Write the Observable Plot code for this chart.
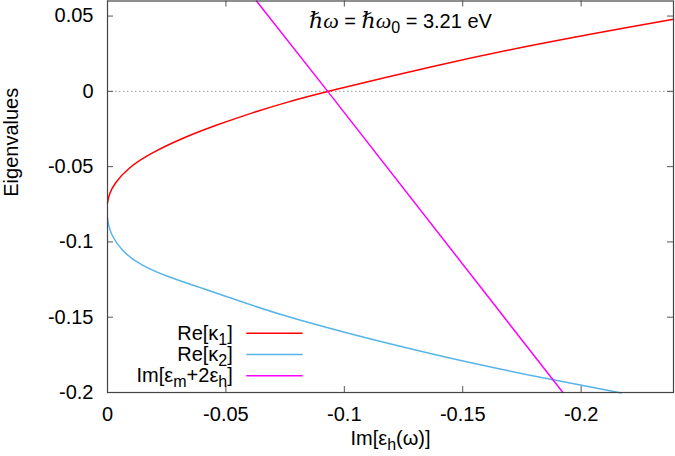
<!DOCTYPE html>
<html><head><meta charset="utf-8">
<script src="https://cdn.jsdelivr.net/npm/d3@7"></script>
<script src="https://cdn.jsdelivr.net/npm/@observablehq/plot@0.6"></script>
<style>body{margin:0;background:#fff} svg{display:block}</style>
</head><body><div id="chart"></div>
<script>
// Re[kappa_1] (red)
const redX = [0, -0.0007, -0.0028, -0.0085, -0.0183, -0.0324, -0.0465, -0.0606, -0.0747, -0.093, -0.1367, -0.179, -0.2212, -0.239];
const redY = [-0.0743, -0.0681, -0.0615, -0.0510, -0.0410, -0.0305, -0.0221, -0.0145, -0.0076, 0.0, 0.0166, 0.0308, 0.0430, 0.0479];
// Re[kappa_2] (blue)
const blueX = [0, -0.0003, -0.0014, -0.0057, -0.0141, -0.0254, -0.0395, -0.0479, -0.0733, -0.1029, -0.1156, -0.15, -0.1881, -0.217];
const blueY = [-0.0837, -0.088, -0.0947, -0.1058, -0.1157, -0.1232, -0.1305, -0.1350, -0.1488, -0.1612, -0.1663, -0.1794, -0.1917, -0.2003];
// Im[eps_m + 2 eps_h] (magenta)
const magX = [-0.0629, -0.093, -0.1923];
const magY = [0.06, 0.0, -0.2];

const xTicks = [0, -0.05, -0.1, -0.15, -0.2];
const xTickLabels = ["0", "-0.05", "-0.1", "-0.15", "-0.2"];
const yTicks = [0.05, 0, -0.05, -0.1, -0.15, -0.2];
const yTickLabels = ["0.05", "0", "-0.05", "-0.1", "-0.15", "-0.2"];

const seriesNames = ["Re[κ_1]", "Re[κ_2]", "Im[ε_m+2ε_h]"];
const seriesColors = ["#ff0000", "#56b4e9", "#ff00ff"];
// legend layout (data coordinates)
const legendTextX = -0.0529, legendLineX1 = -0.0588, legendLineX2 = -0.0826;
const legendY = [-0.1607, -0.1748, -0.1889];
const titleText = "*ℏω* = *ℏω*_0 = 3.21 eV";
const titleX = -0.0851, titleY = 0.0465;

const W = 675, H = 456;
const mL = 107, mR = 2, mT = 0.5, mB = 64;
const plotW = W - mL - mR, plotH = H - mT - mB;

const toRows = (xs, ys) => xs.map((x, i) => ({x, y: ys[i]}));
const red = toRows(redX, redY), blue = toRows(blueX, blueY), mag = toRows(magX, magY);
const legend = seriesNames.map((name, i) => ({name, color: seriesColors[i], y: legendY[i]}));

const fmt = (ticks, labels) => d => labels[ticks.indexOf(d)] ?? "";

const plot = Plot.plot({
  width: W, height: H,
  marginLeft: mL, marginRight: mR, marginTop: mT, marginBottom: mB,
  style: {fontFamily: "Liberation Sans, Arial, sans-serif", fontSize: "20px", color: "#000", background: "#fff"},
  x: {domain: [0, -0.239]},
  y: {domain: [-0.2, 0.06]},
  marks: [
    Plot.ruleY([0], {stroke: "#999", strokeWidth: 1, strokeDasharray: "1.5,2.5"}),
    Plot.axisX({anchor: "bottom", ticks: xTicks, tickSize: 0, tickPadding: 14, tickFormat: fmt(xTicks, xTickLabels), label: null}),
    Plot.axisY({anchor: "left", ticks: yTicks, tickSize: 0, tickPadding: 14, tickFormat: fmt(yTicks, yTickLabels), label: null}),
    Plot.tickX(xTicks, {x: d => d, stroke: "#555", insetTop: plotH - 6}),
    Plot.tickX(xTicks, {x: d => d, stroke: "#555", insetBottom: plotH - 6}),
    Plot.tickY(yTicks, {y: d => d, stroke: "#555", insetRight: plotW - 6}),
    Plot.tickY(yTicks, {y: d => d, stroke: "#555", insetLeft: plotW - 6}),
    Plot.line(red, {x: "x", y: "y", stroke: seriesColors[0], strokeWidth: 1.5, curve: "basis"}),
    Plot.line(blue, {x: "x", y: "y", stroke: seriesColors[1], strokeWidth: 1.5, curve: "basis"}),
    Plot.line(mag, {x: "x", y: "y", stroke: seriesColors[2], strokeWidth: 1.5}),
    Plot.ruleY(legend, {y: "y", x1: legendLineX1, x2: legendLineX2, stroke: "color", strokeWidth: 1.5}),
    Plot.text(legend, {y: "y", x: legendTextX, text: "name", textAnchor: "end", fill: "#000"}),
    Plot.text([titleText], {x: titleX, y: titleY, text: d => d, textAnchor: "start", fill: "#000"}),
    Plot.text(["Eigenvalues"], {frameAnchor: "left", dx: -96, rotate: -90, fill: "#000"}),
    Plot.text(["Im[ε_h(ω)]"], {frameAnchor: "bottom", dy: 52, fill: "#000"}),
    Plot.frame({stroke: "#444", strokeWidth: 1.2})
  ]
});

function richText(root) {
  const ns = "http://www.w3.org/2000/svg";
  root.querySelectorAll("text").forEach(t => {
    const s = t.textContent;
    if (!/[_*]/.test(s)) return;
    t.textContent = "";
    const re = /\*([^*]*)\*|_\{([^}]*)\}|_(.)/g;
    let last = 0, m; const parts = [];
    while ((m = re.exec(s))) {
      if (m.index > last) parts.push([s.slice(last, m.index), "n"]);
      if (m[1] !== undefined) parts.push([m[1], "i"]);
      else parts.push([m[2] ?? m[3], "s"]);
      last = re.lastIndex;
    }
    if (last < s.length) parts.push([s.slice(last), "n"]);
    let shifted = false;
    for (const [txt, kind] of parts) {
      const sp = document.createElementNS(ns, "tspan");
      sp.textContent = txt;
      if (kind === "s") {
        sp.setAttribute("font-size", "80%");
        if (!shifted) { sp.setAttribute("dy", "5"); shifted = true; }
      } else {
        if (shifted) { sp.setAttribute("dy", "-5"); shifted = false; }
        if (kind === "i") { sp.setAttribute("font-style", "italic"); sp.setAttribute("font-family", "Liberation Serif, DejaVu Serif, serif"); sp.setAttribute("font-size", "22px"); }
      }
      t.appendChild(sp);
    }
  });
}
richText(plot);
document.getElementById("chart").appendChild(plot);
</script>
</body></html>
